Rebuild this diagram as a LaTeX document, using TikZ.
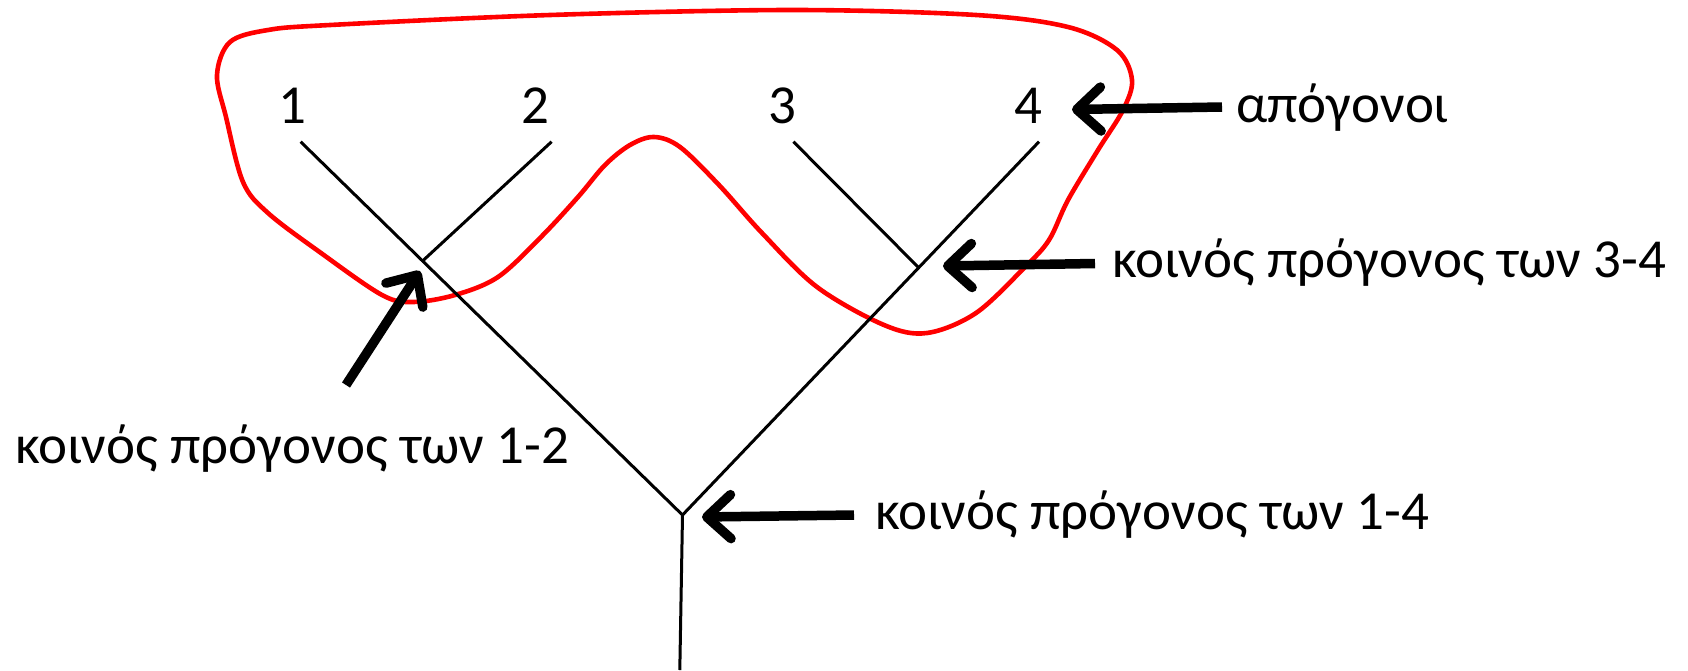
\documentclass[tikz,border=0pt]{standalone}
\usepackage{fontspec}
\setmainfont{Carlito}
\usetikzlibrary{arrows.meta}
\begin{document}
\begin{tikzpicture}[x=1pt,y=-1pt,
  branch/.style={line width=3pt},
  bigarrow/.style={line width=9.5pt, -{Straight Barb[length=24pt,width=44pt,round]}},
  lbl/.style={font=\fontsize{55}{60}\selectfont, inner sep=0pt},
  group/.style={red, line width=4.6pt}]
\useasboundingbox (0,0) rectangle (1688,670);
% tree points
\coordinate (l1) at (300.6,141.7);
\coordinate (l2) at (551.6,141.7);
\coordinate (l3) at (793.4,141.7);
\coordinate (l4) at (1039,141.7);
\coordinate (j12) at (421.8,261.7);
\coordinate (j34) at (919,268);
\coordinate (root) at (682.5,515);
\coordinate (bot) at (679.8,670);
% red outline
\draw[group] plot[smooth cycle, tension=0.55] coordinates {
 (217,75) (230,42) (268,30) (330,25) (550,15) (792,10) (976,15) (1068,27)
 (1117,50) (1132,80) (1123,110) (1098,150) (1068,200) (1049,240) (1025,267)
 (976,313) (927,333) (884,325) (817,287) (762,233) (719,185) (680,147)
 (654,137) (630,145) (605,165) (578,197) (541,237) (498,277) (455,295)
 (413,302) (382,295) (321,253) (268,213) (243,182) (226,117)};
% branches
\draw[branch] (l1) -- (root);
\draw[branch] (l2) -- (j12);
\draw[branch] (l3) -- (j34);
\draw[branch] (l4) -- (root);
\draw[branch] (root) -- (bot);
% leaf labels
\node[lbl, anchor=base] (n1) at (292.8,123) {1};
\node[lbl, anchor=base] (n2) at (535,123) {2};
\node[lbl, anchor=base] (n3) at (782.6,123) {3};
\node[lbl, anchor=base] (n4) at (1028,123) {4};
% labels
\node[lbl, anchor=base west] (tA) at (1236,122) {απόγονοι};
\node[lbl, anchor=base west] (tB) at (1112,277) {κοινός πρόγονος των 3-4};
\node[lbl, anchor=base west] (tD) at (15,463) {κοινός πρόγονος των 1-2};
\node[lbl, anchor=base west] (tC) at (875,529) {κοινός πρόγονος των 1-4};
% arrows
\coordinate (aA) at (1222,107);
\coordinate (hA) at (1072,109.5);
\coordinate (aB) at (1095,263.5);
\coordinate (hB) at (943,266);
\coordinate (aC) at (854,515);
\coordinate (hC) at (702,517);
\coordinate (aD) at (346,385);
\coordinate (hD) at (420,271);
\draw[bigarrow] (aA) -- (hA);
\draw[bigarrow] (aB) -- (hB);
\draw[bigarrow] (aC) -- (hC);
\draw[bigarrow] (aD) -- (hD);
\end{tikzpicture}
\end{document}
